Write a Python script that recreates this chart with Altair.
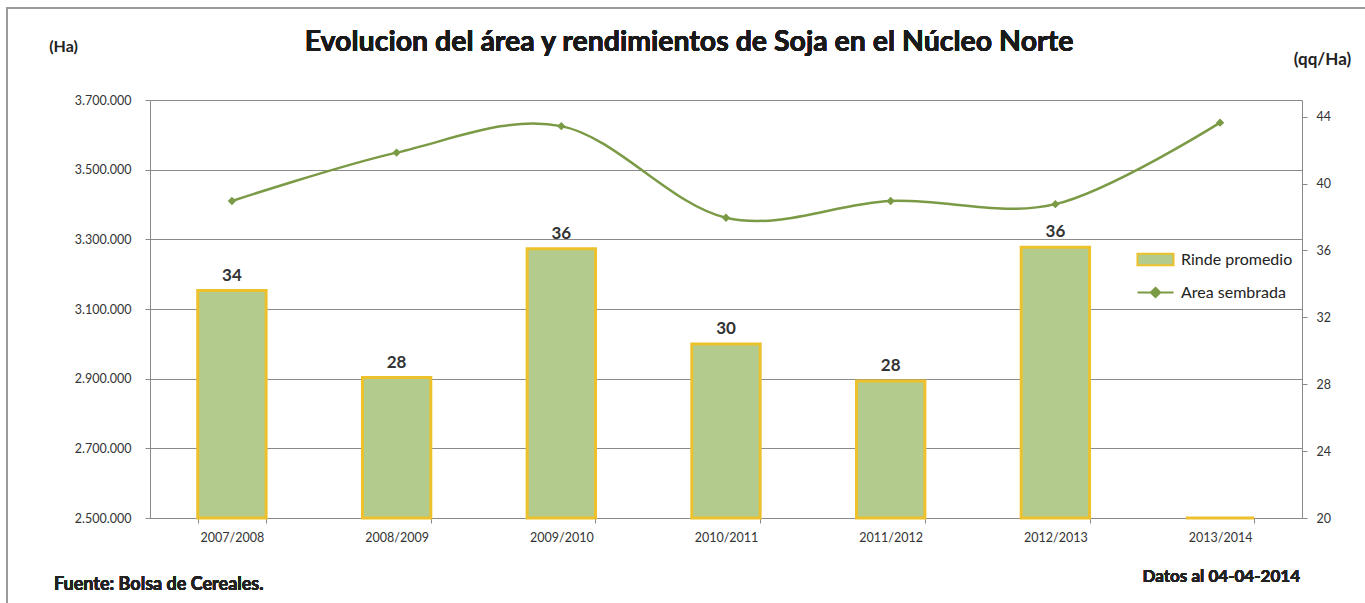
import altair as alt
import pandas as pd

# ---- data ----
campanas = ["2007/2008", "2008/2009", "2009/2010", "2010/2011", "2011/2012", "2012/2013", "2013/2014"]
rinde = [33.6, 28.4, 36.1, 30.4, 28.2, 36.2, 0]          # qq/Ha (bars, right axis)
area = [3410000, 3549000, 3625000, 3362000, 3410000, 3401000, 3635000]  # Ha (line, left axis)
left_ticks = [2500000, 2700000, 2900000, 3100000, 3300000, 3500000, 3700000]
right_ticks = [20, 24, 28, 32, 36, 40, 44]

TITLE = "Evolucion del área y rendimientos de Soja  en el Núcleo Norte"
FUENTE = "Fuente: Bolsa de Cereales."
DATOS = "Datos al 04-04-2014"

df = pd.DataFrame({"campana": campanas, "rinde": rinde, "area": area})

FONT = "Lato"
BAR_FILL = "#b3cc8e"
BAR_STROKE = "#ecc12c"
LINE = "#7b9a45"
GRID = "#8a8a8a"
LABEL = "#333333"

W, H = 1152, 418

base = alt.Chart(df).transform_calculate(
    serie_b="'Rinde promedio'", serie_l="'Area sembrada'"
)

x_enc = alt.X(
    "campana:N",
    sort=campanas,
    scale=alt.Scale(paddingInner=0.585, paddingOuter=0.29),
    axis=alt.Axis(
        title=None, labelAngle=0, tickBand="extent", tickSize=5, tickColor=GRID,
        domainColor=GRID, labelFont=FONT, labelFontSize=12.5, labelColor=LABEL,
        labelPadding=8, grid=False,
    ),
)

rect_path = "M-1,-0.32L1,-0.32L1,0.32L-1,0.32Z"
line_path = "M-1,0L1,0M0,-0.26L0.26,0L0,0.26L-0.26,0Z"

y_right = alt.Y(
    "rinde:Q",
    scale=alt.Scale(domain=[20, 45], zero=False, clamp=True, nice=False),
    axis=alt.Axis(
        orient="right", values=right_ticks, grid=False, tickSize=5, tickColor=GRID,
        domainColor=GRID, labelFont=FONT, labelFontSize=12.5, labelColor=LABEL,
        labelPadding=9, title="(qq/Ha)", titleAngle=0, titleX=20, titleY=-41,
        titleAlign="center", titleBaseline="middle", titleFont=FONT,
        titleFontSize=17, titleFontWeight="bold", titleColor="#222222",
    ),
)

bars = base.mark_bar(stroke=BAR_STROKE, strokeWidth=3).encode(
    x=x_enc,
    y=y_right,
    y2=alt.datum(20),
    fill=alt.Fill(
        "serie_b:N",
        scale=alt.Scale(domain=["Rinde promedio"], range=[BAR_FILL]),
        legend=alt.Legend(
            title=None, orient="none", legendX=986, legendY=140, padding=0,
            symbolType=rect_path, symbolSize=1300, symbolStrokeColor=BAR_STROKE,
            symbolStrokeWidth=2, symbolOpacity=1, labelFont=FONT, labelFontSize=16,
            labelColor="#222222", labelOffset=6,
        ),
    ),
)

labels = base.transform_filter("datum.rinde > 0").mark_text(
    baseline="bottom", dy=-6, font=FONT, fontSize=17, fontWeight="bold", color="#333333"
).encode(
    x=alt.X("campana:N", sort=campanas),
    y=alt.Y("rinde:Q"),
    text=alt.Text("rinde:Q", format=".0f"),
)

y_left = alt.Y(
    "area:Q",
    scale=alt.Scale(domain=[2500000, 3700000], zero=False, nice=False),
    axis=alt.Axis(
        orient="left", values=left_ticks, grid=True, gridColor=GRID, gridWidth=1,
        tickSize=5, tickColor=GRID, domainColor=GRID,
        labelExpr="replace(format(datum.value, ',.0f'), regexp(',', 'g'), '.')",
        labelFont=FONT, labelFontSize=12.5, labelColor=LABEL, labelPadding=14,
        title="(Ha)", titleAngle=0, titleX=-87, titleY=-54, titleAlign="center",
        titleBaseline="middle", titleFont=FONT, titleFontSize=16,
        titleFontWeight="bold", titleColor="#222222",
    ),
)

line = base.mark_line(interpolate="cardinal", strokeWidth=2.5).encode(
    x=alt.X("campana:N", sort=campanas),
    y=y_left,
    stroke=alt.Stroke(
        "serie_l:N",
        scale=alt.Scale(domain=["Area sembrada"], range=[LINE]),
        legend=alt.Legend(
            title=None, orient="none", legendX=986, legendY=173, padding=0,
            symbolType=line_path, symbolSize=1300, symbolFillColor=LINE,
            symbolStrokeWidth=2, labelFont=FONT, labelFontSize=16,
            labelColor="#222222", labelOffset=6,
        ),
    ),
)

points = base.mark_point(shape="diamond", filled=True, size=70, opacity=1, color=LINE).encode(
    x=alt.X("campana:N", sort=campanas),
    y=alt.Y("area:Q"),
)

frame = alt.Chart(df).mark_rect(fill=None, stroke="#9a9a9a", strokeWidth=1.5).encode(
    x=alt.value(-143), y=alt.value(-92), x2=alt.value(W + 100), y2=alt.value(H + 150)
)

title = alt.Chart(df).mark_text(
    text=TITLE, align="center", baseline="alphabetic",
    font=FONT, fontSize=28.5, fontWeight="bold", color="#1a1a1a",
).encode(x=alt.value(539), y=alt.value(-49))

fuente = alt.Chart(df).mark_text(
    text=FUENTE, align="left", baseline="middle",
    font=FONT, fontSize=18, fontWeight="bold", color="#222222",
).encode(x=alt.value(-96), y=alt.value(485))

datos = alt.Chart(df).mark_text(
    text=DATOS, align="right", baseline="middle",
    font=FONT, fontSize=17, fontWeight="bold", color="#222222",
).encode(x=alt.value(W - 2), y=alt.value(477))

right_layer = alt.layer(bars, labels)
left_layer = alt.layer(line, points)

chart = alt.layer(right_layer, left_layer, frame, title, fuente, datos).resolve_scale(
    y="independent", fill="independent", stroke="independent"
).properties(
    width=W,
    height=H,
    padding={"left": 150, "top": 100, "right": 63, "bottom": 85},
    autosize=alt.AutoSizeParams(type="none"),
).configure_view(stroke=GRID, strokeWidth=1).configure(background="white")

chart.save("out.html", embed_options={"renderer": "svg", "actions": False})
